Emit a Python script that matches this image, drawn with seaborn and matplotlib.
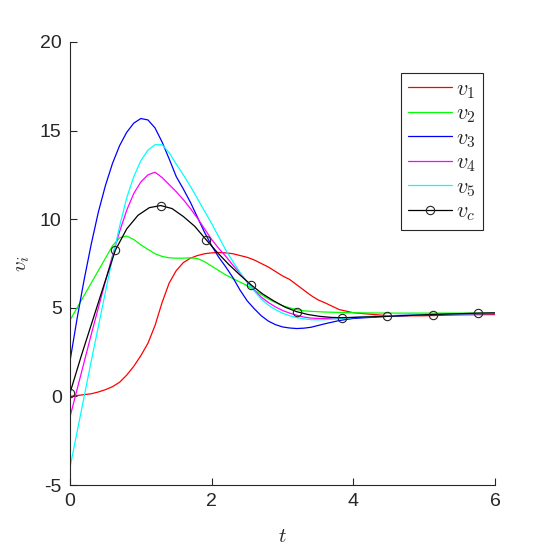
import numpy as np
import pandas as pd
import seaborn as sns
import matplotlib
matplotlib.use('Agg')
import matplotlib.pyplot as plt

# time grid shared by v1..v5
t = [0.0, 0.1, 0.2, 0.3, 0.4, 0.5, 0.6, 0.7, 0.8, 0.9,
     1.0, 1.1, 1.2, 1.3, 1.4, 1.5, 1.6, 1.7, 1.8, 1.9,
     2.0, 2.1, 2.2, 2.3, 2.4, 2.5, 2.6, 2.7, 2.8, 2.9,
     3.0, 3.1, 3.2, 3.3, 3.4, 3.5, 3.6, 3.8, 4.0, 4.5, 5.0, 5.5, 6.0]

v1 = [0.0, 0.05, 0.1, 0.15, 0.25, 0.38, 0.55, 0.8, 1.2, 1.7,
      2.3, 3.0, 4.0, 5.3, 6.4, 7.1, 7.55, 7.8, 7.95, 8.05,
      8.1, 8.12, 8.1, 8.05, 7.95, 7.85, 7.7, 7.5, 7.3, 7.05,
      6.8, 6.6, 6.3, 6.0, 5.7, 5.45, 5.28, 4.9, 4.72, 4.55, 4.55, 4.6, 4.62]
v2 = [4.3, 5.0, 5.7, 6.4, 7.1, 7.8, 8.5, 8.95, 9.05, 8.85,
      8.55, 8.3, 8.05, 7.9, 7.82, 7.8, 7.8, 7.82, 7.78, 7.6,
      7.35, 7.1, 6.85, 6.65, 6.45, 6.25, 6.0, 5.75, 5.5, 5.3,
      5.12, 5.0, 4.9, 4.83, 4.8, 4.78, 4.76, 4.74, 4.72, 4.7, 4.7, 4.7, 4.7]
v3 = [2.0, 4.4, 6.6, 8.6, 10.4, 11.9, 13.15, 14.15, 14.9, 15.42,
      15.68, 15.6, 15.15, 14.35, 13.4, 12.4, 11.7, 10.95, 10.1, 9.25,
      8.5, 7.85, 7.3, 6.7, 6.0, 5.4, 4.95, 4.55, 4.25, 4.05,
      3.92, 3.86, 3.83, 3.85, 3.9, 4.0, 4.1, 4.28, 4.4, 4.52, 4.6, 4.65, 4.68]
v4 = [-1.15, 0.4, 1.95, 3.5, 5.0, 6.5, 7.95, 9.3, 10.5, 11.45,
      12.1, 12.5, 12.65, 12.35, 11.95, 11.55, 11.1, 10.6, 10.05, 9.45,
      8.85, 8.35, 7.9, 7.4, 6.95, 6.45, 6.0, 5.6, 5.3, 5.05,
      4.85, 4.7, 4.58, 4.48, 4.42, 4.4, 4.4, 4.42, 4.45, 4.55, 4.62, 4.66, 4.68]
v5 = [-4.0, -2.0, 0.0, 2.0, 3.95, 5.9, 7.8, 9.6, 11.2, 12.4,
      13.3, 13.9, 14.2, 14.2, 13.75, 13.1, 12.5, 11.85, 11.15, 10.45,
      9.75, 9.0, 8.25, 7.6, 7.0, 6.45, 5.95, 5.5, 5.15, 4.9,
      4.7, 4.55, 4.45, 4.38, 4.33, 4.32, 4.33, 4.38, 4.45, 4.55, 4.62, 4.66, 4.68]

# consensus curve, own grid (markers every 4th sample)
t_c = [0.0, 0.16, 0.32, 0.48, 0.64, 0.80, 0.96, 1.12, 1.28, 1.44,
       1.60, 1.76, 1.92, 2.08, 2.24, 2.40, 2.56, 2.72, 2.88, 3.04,
       3.20, 3.36, 3.52, 3.68, 3.84, 4.00, 4.16, 4.32, 4.48, 4.64,
       4.80, 4.96, 5.12, 5.28, 5.44, 5.60, 5.76, 5.92, 6.0]
v_c = [0.2, 2.3, 4.3, 6.3, 8.25, 9.45, 10.22, 10.65, 10.77, 10.6,
       10.15, 9.6, 8.85, 8.12, 7.45, 6.85, 6.28, 5.78, 5.38, 5.03,
       4.78, 4.62, 4.52, 4.46, 4.44, 4.46, 4.48, 4.5, 4.52, 4.55,
       4.57, 4.6, 4.62, 4.64, 4.66, 4.68, 4.7, 4.71, 4.71]

names = ['$v_1$', '$v_2$', '$v_3$', '$v_4$', '$v_5$']
colors = ['#ff0000', '#00ff00', '#0000ff', '#ff00ff', '#00ffff']

sns.set_style('ticks', {'xtick.direction': 'in', 'ytick.direction': 'in'})
plt.rcParams['font.family'] = ['Liberation Sans', 'DejaVu Sans']
plt.rcParams['mathtext.fontset'] = 'cm'
plt.rcParams['axes.unicode_minus'] = False

fig = plt.figure(figsize=(5.47, 5.47), dpi=100)
ax = fig.add_axes([0.128, 0.1133, 0.777, 0.81])

for vals, name, col in zip([v1, v2, v3, v4, v5], names, colors):
    df = pd.DataFrame({'t': t, 'v': vals})
    sns.lineplot(data=df, x='t', y='v', ax=ax, color=col, lw=0.9,
                 label=name, sort=False, estimator=None)

dfc = pd.DataFrame({'t': t_c, 'v': v_c})
sns.lineplot(data=dfc, x='t', y='v', ax=ax, color='black', lw=0.9,
             marker='o', markevery=4, ms=6, mfc='none', mec='#262626',
             mew=0.8, label='$v_c$', sort=False, estimator=None)

ax.set_xlim(0, 6)
ax.set_ylim(-5, 20)
ax.set_xticks([0, 2, 4, 6])
ax.set_yticks([-5, 0, 5, 10, 15, 20])
ax.tick_params(axis='both', labelsize=14, colors='#262626', length=5, width=0.8,
               pad=6)
for s in ['left', 'bottom']:
    ax.spines[s].set_color('#262626')
    ax.spines[s].set_linewidth(0.8)
sns.despine(ax=ax)

ax.set_xlabel('$t$', fontsize=15, color='#262626', labelpad=12)
ax.set_ylabel('$v_i$', fontsize=15, color='#262626', labelpad=6)

leg = ax.legend(loc='upper right', bbox_to_anchor=(0.972, 0.931),
                borderaxespad=0, fontsize=16, frameon=True, fancybox=False,
                edgecolor='#262626', framealpha=1, handlelength=2.0,
                handletextpad=0.2, labelspacing=0.12, borderpad=0.3)
leg.get_frame().set_linewidth(0.8)

fig.savefig('out.png', dpi=100)
